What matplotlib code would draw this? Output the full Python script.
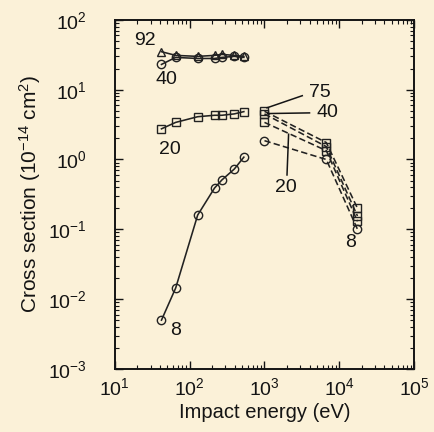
"""Cross section versus impact energy, log-log, with charge-state labels."""

import matplotlib.pyplot as plt

plt.rcParams["font.family"] = ["Liberation Sans", "DejaVu Sans"]
plt.rcParams["mathtext.fontset"] = "custom"
plt.rcParams["mathtext.rm"] = "Liberation Sans"
plt.rcParams["mathtext.it"] = "Liberation Sans"

BG = "#fbf1d8"
INK = "#141414"

# low-energy series (solid lines)
low_energy = [42, 65, 128, 215, 270, 395, 530]
q92_low = [35, 31, 30, 31, 32, 31, 30]
q40_low = [23, 29, 28, 28, 29, 30, 29]
q20_low = [2.75, 3.4, 4.1, 4.3, 4.3, 4.5, 4.85]
q8_low = [0.005, 0.0144, 0.16, 0.39, 0.51, 0.73, 1.08]

# high-energy series (dashed lines)
high_energy = [1000, 6700, 17500]
q75_high = [4.9, 1.75, 0.2]
q40_high = [4.5, 1.53, 0.155]
q8_high = [3.4, 1.34, 0.13]
q20_high = [1.86, 1.0, 0.1]

fig = plt.figure(figsize=(4.35, 4.32), dpi=100, facecolor=BG)
ax = fig.add_axes([0.264, 0.146, 0.688, 0.808], facecolor=BG)

line_kw = dict(color="#222222", linewidth=1.15, markersize=6,
               markerfacecolor="none", markeredgewidth=1.0)

ax.plot(low_energy, q92_low, marker="^", **line_kw)
ax.plot(low_energy, q40_low, marker="o", **line_kw)
ax.plot(low_energy, q20_low, marker="s", **line_kw)
ax.plot(low_energy, q8_low, marker="o", **line_kw)

ax.plot(high_energy, q75_high, marker="s", linestyle=(0, (4, 2)), **line_kw)
ax.plot(high_energy, q40_high, marker="s", linestyle=(0, (4, 2)), **line_kw)
ax.plot(high_energy, q8_high, marker="s", linestyle=(0, (4, 2)), **line_kw)
ax.plot(high_energy, q20_high, marker="o", linestyle=(0, (4, 2)), **line_kw)

ax.set_xscale("log")
ax.set_yscale("log")
ax.set_xlim(10, 1e5)
ax.set_ylim(1e-3, 1e2)

label_kw = dict(fontsize=14, color=INK, ha="center", va="center")
ax.text(25.5, 51, "92", **label_kw)
ax.text(49, 14, "40", **label_kw)
ax.text(54, 1.4, "20", **label_kw)
ax.text(65, 0.0036, "8", **label_kw)

# leader lines for the high-energy labels
ax.plot([1080, 3200], [5.5, 8.2], color=INK, linewidth=1.1)
ax.text(5500, 9.2, "75", **label_kw)
ax.plot([1100, 4000], [4.55, 4.65], color=INK, linewidth=1.1)
ax.text(6900, 4.75, "40", **label_kw)
ax.plot([2000, 2100], [0.6, 2.3], color=INK, linewidth=1.1)
ax.text(1950, 0.4, "20", **label_kw)
ax.text(14300, 0.064, "8", **label_kw)

ax.set_xlabel("Impact energy (eV)", fontsize=14.5, color=INK, labelpad=3)
ax.set_ylabel("Cross section (10$^{-14}$ cm$^{2}$)", fontsize=15, color=INK,
              labelpad=4)

ax.tick_params(which="both", direction="in", top=True, right=True,
               labelsize=14, colors=INK)
ax.tick_params(which="major", length=6, width=1.0)
ax.tick_params(axis="x", which="major", pad=6)
ax.tick_params(axis="y", which="major", pad=20)
ax.tick_params(which="minor", length=3, width=0.8)
for spine in ax.spines.values():
    spine.set_linewidth(1.4)
    spine.set_color(INK)

fig.savefig("out.png", dpi=100, facecolor=BG)
